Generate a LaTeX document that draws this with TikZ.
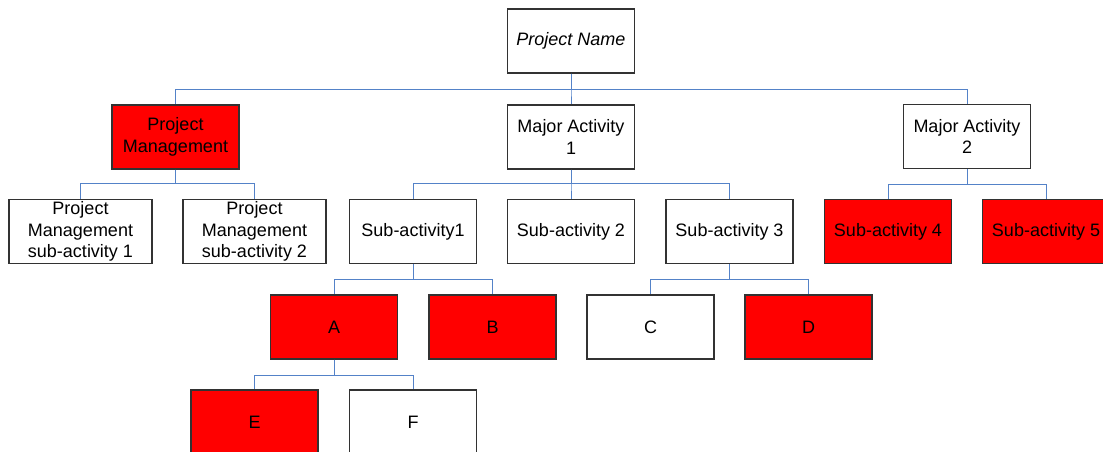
\documentclass[tikz,border=0pt]{standalone}
\usepackage{fontspec}
\setmainfont{Liberation Sans}
\definecolor{conncol}{RGB}{84,130,200}
\definecolor{boxline}{RGB}{50,50,50}
\definecolor{redfill}{RGB}{255,0,0}
\begin{document}
\begin{tikzpicture}[x=1pt,y=1pt,
  box/.style={draw=boxline,line width=1.1pt,fill=white,minimum width=127pt,minimum height=64pt,inner sep=0pt,align=center,font=\fontsize{18}{21.8}\selectfont},
  wide/.style={box,minimum width=143pt},
  redbox/.style={box,fill=redfill},
  conn/.style={draw=conncol,line width=1pt}]
\useasboundingbox (0,0) rectangle (1103,-452);
\node[box] (pn) at (571,-41) {\itshape Project Name};
\node[redbox] (pm) at (175.5,-137) {Project\\Management};
\node[box] (ma1) at (571,-137) {Major Activity\\1};
\node[box] (ma2) at (967,-136.5) {Major Activity\\2};
\node[wide] (pms1) at (80.5,-231.5) {Project\\Management\\sub-activity 1};
\node[wide] (pms2) at (254.5,-231.5) {Project\\Management\\sub-activity 2};
\node[box] (s1) at (413,-231.5) {Sub-activity1};
\node[box] (s2) at (571,-231.5) {Sub-activity 2};
\node[box] (s3) at (729.5,-231.5) {Sub-activity 3};
\node[redbox] (s4) at (888,-231.5) {Sub-activity 4};
\node[redbox] (s5) at (1046,-231.5) {Sub-activity 5};
\node[redbox] (a) at (334,-327) {A};
\node[redbox] (b) at (492.5,-327) {B};
\node[box] (c) at (650.5,-327) {C};
\node[redbox] (d) at (808.5,-327) {D};
\node[redbox] (e) at (254.5,-422) {E};
\node[box] (f) at (413,-422) {F};
% connectors
\foreach \t in {pm,ma1,ma2} \draw[conn] (pn.south) -- ++(0,-16) -| (\t.north);
\foreach \t in {pms1,pms2} \draw[conn] (pm.south) -- ++(0,-14) -| (\t.north);
\foreach \t in {s1,s2,s3} \draw[conn] (ma1.south) -- ++(0,-14) -| (\t.north);
\foreach \t in {s4,s5} \draw[conn] (ma2.south) -- ++(0,-15) -| (\t.north);
\foreach \t in {a,b} \draw[conn] (s1.south) -- ++(0,-15) -| (\t.north);
\foreach \t in {c,d} \draw[conn] (s3.south) -- ++(0,-15) -| (\t.north);
\foreach \t in {e,f} \draw[conn] (a.south) -- ++(0,-16) -| (\t.north);
\end{tikzpicture}
\end{document}
